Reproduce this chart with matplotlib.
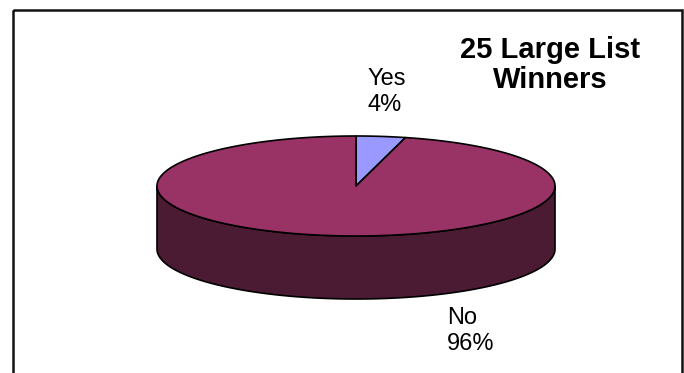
import numpy as np
import matplotlib.pyplot as plt
from matplotlib.patches import Polygon, Rectangle

# данные
labels = ['Yes', 'No']
values = [4, 96]
top_colors = ['#9999ff', '#993366']
side_colors = ['#4d4d80', '#4b1a33']
title = '25 Large List\nWinners'

plt.rcParams['font.family'] = ['Liberation Sans', 'DejaVu Sans']

fig = plt.figure(figsize=(6.84, 3.73), dpi=100)
ax = fig.add_axes([0, 0, 1, 1])
ax.set_xlim(0, 684)
ax.set_ylim(373, 0)
ax.axis('off')

# рамка
ax.add_patch(Rectangle((12.5, 9.5), 669, 380, fill=False, ec='#111111', lw=1.8))

# геометрия псевдо-3D пирога
cx, cy = 356, 186
a, b = 199, 50
depth = 63


def pt(t):
    t = np.radians(t)
    return cx + a * np.cos(t), cy - b * np.sin(t)


total = float(sum(values))
cum = np.concatenate([[0], np.cumsum(values)]) / total
starts = 90 - cum[:-1] * 360
ends = 90 - cum[1:] * 360

# боковая стенка (передняя половина)
for s, e, col in zip(starts, ends, side_colors):
    lo, hi = max(e, -180), min(s, 0)
    if hi <= lo:
        continue
    t = np.linspace(hi, lo, 200)
    x, y = pt(t)
    xs = np.concatenate([x, x[::-1]])
    ys = np.concatenate([y, y[::-1] + depth])
    ax.add_patch(Polygon(np.column_stack([xs, ys]), closed=True,
                         fc=col, ec='black', lw=1.2, joinstyle='round'))

# верхние сектора
for s, e, col in zip(starts, ends, top_colors):
    t = np.linspace(s, e, 400)
    x, y = pt(t)
    xs = np.concatenate([[cx], x])
    ys = np.concatenate([[cy], y])
    ax.add_patch(Polygon(np.column_stack([xs, ys]), closed=True,
                         fc=col, ec='black', lw=1.2, joinstyle='round'))

# подписи
pcts = ['%d%%' % round(v / total * 100) for v in values]
ax.text(367, 68, labels[0] + '\n' + pcts[0], fontsize=17, ha='left', va='top',
        linespacing=1.25)
ax.text(447, 307, labels[1] + '\n' + pcts[1], fontsize=17, ha='left', va='top',
        linespacing=1.25)

ax.text(550, 36, title, fontsize=21, fontweight='bold', ha='center', va='top',
        linespacing=1.1)

fig.savefig('out.png', dpi=100)
